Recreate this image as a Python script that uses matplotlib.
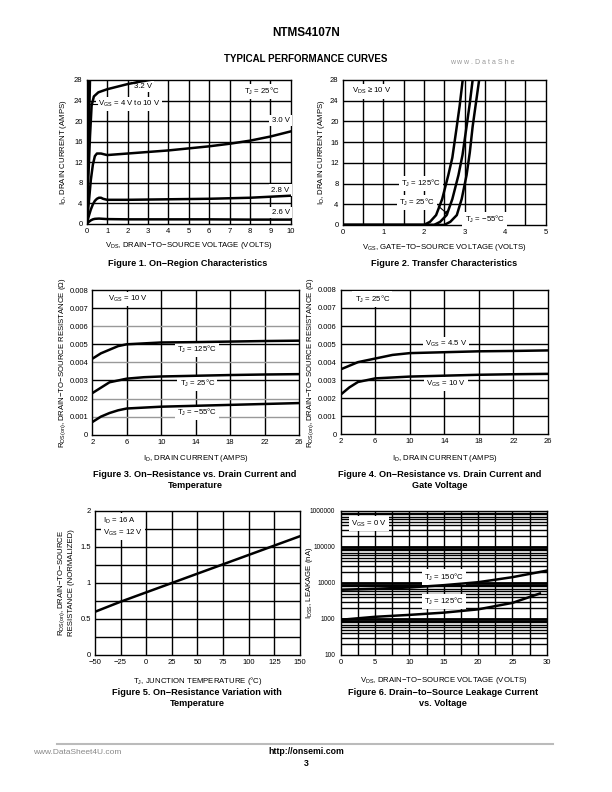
import numpy as np
import matplotlib
matplotlib.use("Agg")
import matplotlib.pyplot as plt

plt.rcParams["font.family"] = ["Liberation Sans", "DejaVu Sans"]
plt.rcParams["mathtext.default"] = "regular"

# ── Figure 1: on-region characteristics ──────────────────────────────────────
f1_hi_a_vds = [0, 0.06, 0.12]
f1_hi_a_id = [0, 14, 28]
f1_hi_b_vds = [0, 0.08, 0.16]
f1_hi_b_id = [0, 14, 28]
f1_32_vds = [0, 0.08, 0.16, 0.24, 0.35, 0.57, 1.0, 1.5, 2.0, 2.5, 3.1]
f1_32_id = [0, 9, 17, 23, 24.8, 25.6, 26.2, 26.7, 27.2, 27.6, 28]
f1_30_vds = [0, 0.1, 0.2, 0.3, 0.4, 0.5, 0.7, 1.0, 2, 3, 4, 5, 6, 7, 8, 9, 10]
f1_30_id = [0, 4, 8.5, 11.5, 13.2, 13.7, 13.7, 13.4, 13.7, 14, 14.3, 14.7, 15.1, 15.6, 16.2, 17, 18]
f1_28_vds = [0, 0.1, 0.2, 0.3, 0.4, 0.5, 0.6, 0.7, 0.8, 1.0, 2, 4, 6, 8, 10]
f1_28_id = [0, 1.5, 2.8, 3.8, 4.5, 4.9, 5.1, 5.1, 4.9, 4.7, 4.7, 4.8, 4.9, 5.1, 5.5]
f1_26_vds = [0, 0.1, 0.2, 0.3, 0.4, 0.6, 0.8, 1, 2, 4, 6, 8, 10]
f1_26_id = [0, 0.4, 0.7, 0.9, 1.0, 1.05, 1.0, 0.95, 0.9, 0.9, 0.9, 0.85, 0.85]

# ── Figure 2: transfer characteristics ───────────────────────────────────────
f2_125_vgs = [0, 2.0, 2.15, 2.3, 2.45, 2.6, 2.7, 2.8, 2.88, 2.955]
f2_125_id = [0, 0, 0.6, 1.9, 5, 9.6, 13, 18.5, 23, 28]
f2_25_vgs = [0, 2.25, 2.4, 2.56, 2.7, 2.85, 2.95, 3.05, 3.13, 3.2]
f2_25_id = [0, 0, 0.6, 1.9, 5, 9.6, 13.5, 19, 23.5, 28]
f2_m55_vgs = [0, 2.5, 2.65, 2.81, 2.93, 3.05, 3.13, 3.2, 3.28, 3.36]
f2_m55_id = [0, 0, 0.6, 1.9, 5, 9.6, 14, 19, 23.5, 28]

# ── Figure 3: Rds(on) vs Id and temperature ──────────────────────────────────
f3_id = [2, 3, 4, 5, 6, 8, 10, 14, 18, 22, 26]
f3_125 = [0.0042, 0.0045, 0.0047, 0.0049, 0.0050, 0.00505, 0.0051, 0.00512, 0.00515, 0.00518, 0.0052]
f3_25 = [0.0023, 0.0026, 0.0029, 0.0030, 0.0031, 0.00318, 0.00322, 0.00326, 0.0033, 0.00333, 0.00335]
f3_m55 = [0.0007, 0.0010, 0.0012, 0.00135, 0.00145, 0.0015, 0.00155, 0.0016, 0.00165, 0.0017, 0.00175]

# ── Figure 4: Rds(on) vs Id and gate voltage ─────────────────────────────────
f4_id = [2, 3, 4, 5, 6, 8, 10, 14, 18, 22, 26]
f4_45 = [0.0036, 0.0038, 0.0040, 0.0041, 0.0042, 0.0044, 0.0045, 0.00455, 0.0046, 0.00462, 0.00465]
f4_10 = [0.0022, 0.0026, 0.0029, 0.0030, 0.0031, 0.00315, 0.0032, 0.00325, 0.0033, 0.00333, 0.00335]

# ── Figure 5: normalized Rds(on) vs Tj ───────────────────────────────────────
f5_tj = [-50, -25, 0, 25, 50, 75, 100, 125, 150]
f5_r = [0.6, 0.74, 0.87, 1.0, 1.13, 1.26, 1.39, 1.52, 1.65]

# ── Figure 6: leakage vs Vds ─────────────────────────────────────────────────
f6_vds = [0, 5, 10, 15, 20, 25, 30]
f6_150 = [6500, 6900, 7500, 8700, 10500, 14500, 22000]
f6_125_vds = [0, 5, 10, 15, 20, 25, 29]
f6_125 = [950, 1150, 1300, 1500, 1850, 2800, 5100]

fig = plt.figure(figsize=(6.12, 7.92), dpi=100, facecolor="white")

TICK = 5.5
LAB = 5.6
LW = 1.8


def style(ax, xticks, yticks, xgrid, ygrid, xlim, ylim, gridcol="black"):
    ax.set_xlim(*xlim)
    ax.set_ylim(*ylim)
    ax.set_xticks(xticks)
    ax.set_yticks(yticks)
    for v in xgrid:
        ax.axvline(v, color="black", lw=1.0, zorder=1)
    for v in ygrid:
        ax.axhline(v, color=gridcol, lw=1.0, zorder=1)
    ax.tick_params(labelsize=TICK, length=0, pad=3)
    for s in ax.spines.values():
        s.set_linewidth(1.0)


def label(ax, x, y, s, ha="center", fs=5.6):
    ax.text(x, y, s, ha=ha, va="center", fontsize=fs, zorder=3,
            bbox=dict(facecolor="white", edgecolor="none", pad=1.5))


def axlabels(ax, xl, yl, xc, yc):
    ax.set_xlabel(xl, fontsize=LAB)
    ax.set_ylabel(yl, fontsize=LAB, linespacing=1.2)
    ax.xaxis.set_label_coords(0.5, xc)
    ax.yaxis.set_label_coords(yc, 0.5)


# Figure 1
ax1 = fig.add_axes([0.1417, 0.7172, 0.3333, 0.1818])
style(ax1, range(0, 11), range(0, 29, 4), np.arange(1, 10), np.arange(4, 28, 4), (0, 10), (0, 28))
for xs, ys in [(f1_hi_a_vds, f1_hi_a_id), (f1_hi_b_vds, f1_hi_b_id), (f1_32_vds, f1_32_id),
               (f1_30_vds, f1_30_id), (f1_28_vds, f1_28_id), (f1_26_vds, f1_26_id)]:
    ax1.plot(xs, ys, color="black", lw=LW, zorder=4, clip_on=True)
label(ax1, 2.75, 26.8, "3.2 V")
label(ax1, 0.55, 23.3, "V$_{GS}$ = 4 V to 10 V", ha="left")
ax1.plot([0.15, 0.5], [23.3, 23.3], color="black", lw=0.8, zorder=4)
label(ax1, 8.6, 25.8, "T$_J$ = 25°C")
label(ax1, 9.5, 20.2, "3.0 V")
label(ax1, 9.5, 6.6, "2.8 V")
label(ax1, 9.5, 2.2, "2.6 V")
axlabels(ax1, "V$_{DS}$, DRAIN−TO−SOURCE VOLTAGE (VOLTS)", "I$_D$, DRAIN CURRENT (AMPS)",
         -0.111, -0.087)

# Figure 2
ax2 = fig.add_axes([0.560, 0.716, 0.3317, 0.183])
style(ax2, range(0, 6), range(0, 29, 4), np.arange(0.5, 5, 0.5), np.arange(4, 28, 4), (0, 5), (0, 28))
for xs, ys in [(f2_125_vgs, f2_125_id), (f2_25_vgs, f2_25_id), (f2_m55_vgs, f2_m55_id)]:
    ax2.plot(xs, ys, color="black", lw=LW, zorder=4)
label(ax2, 0.22, 25.8, "V$_{DS}$ ≥ 10 V", ha="left")
label(ax2, 2.42, 8.0, "T$_J$ = 125°C", ha="right")
label(ax2, 2.27, 4.3, "T$_J$ = 25°C", ha="right")
ax2.annotate("", xy=(2.66, 1.6), xytext=(2.3, 4.0),
             arrowprops=dict(arrowstyle="-|>", color="black", lw=0.8, mutation_scale=5), zorder=5)
label(ax2, 3.0, 1.0, "T$_J$ = −55°C", ha="left")
axlabels(ax2, "V$_{GS}$, GATE−TO−SOURCE VOLTAGE (VOLTS)", "I$_D$, DRAIN CURRENT (AMPS)",
         -0.117, -0.077)

# Figure 3
r_ticks = [0, 0.001, 0.002, 0.003, 0.004, 0.005, 0.006, 0.007, 0.008]
r_labels = ["0", "0.001", "0.002", "0.003", "0.004", "0.005", "0.006", "0.007", "0.008"]
ax3 = fig.add_axes([0.1508, 0.4511, 0.3377, 0.1827])
style(ax3, range(2, 27, 4), r_ticks, [6, 10, 14, 18, 22], [], (2, 26), (0, 0.008))
ax3.set_yticklabels(r_labels)
for v, c in zip(r_ticks[1:-1], ["#999999", "#999999", "black", "#999999", "black", "#999999", "black"]):
    ax3.axhline(v, color=c, lw=1.0, zorder=1)
for ys in [f3_125, f3_25, f3_m55]:
    ax3.plot(f3_id, ys, color="black", lw=LW, zorder=4)
label(ax3, 3.8, 0.0075, "V$_{GS}$ = 10 V", ha="left")
label(ax3, 14.2, 0.0047, "T$_J$ = 125°C")
label(ax3, 14.2, 0.00285, "T$_J$ = 25°C")
label(ax3, 14.2, 0.00122, "T$_J$ = −55°C")
axlabels(ax3, "I$_D$, DRAIN CURRENT (AMPS)", "R$_{DS(on)}$, DRAIN−TO−SOURCE RESISTANCE (Ω)",
         -0.126, -0.117)

# Figure 4
ax4 = fig.add_axes([0.5567, 0.4516, 0.3387, 0.1823])
style(ax4, range(2, 27, 4), r_ticks, [6, 10, 14, 18, 22], r_ticks[1:-1], (2, 26), (0, 0.008))
ax4.set_yticklabels(r_labels)
for ys in [f4_45, f4_10]:
    ax4.plot(f4_id, ys, color="black", lw=LW, zorder=4)
label(ax4, 3.6, 0.0075, "T$_J$ = 25°C", ha="left")
label(ax4, 14.2, 0.0050, "V$_{GS}$ = 4.5 V")
label(ax4, 14.2, 0.0028, "V$_{GS}$ = 10 V")
axlabels(ax4, "I$_D$, DRAIN CURRENT (AMPS)", "R$_{DS(on)}$, DRAIN−TO−SOURCE RESISTANCE (Ω)",
         -0.126, -0.119)

# Figure 5
ax5 = fig.add_axes([0.1552, 0.173, 0.335, 0.1818])
style(ax5, range(-50, 151, 25), [0, 0.5, 1, 1.5, 2], range(-25, 150, 25),
      np.arange(0.25, 2, 0.25), (-50, 150), (0, 2))
ax5.set_yticklabels(["0", "0.5", "1", "1.5", "2"])
ax5.set_xticklabels(["−50", "−25", "0", "25", "50", "75", "100", "125", "150"])
ax5.plot(f5_tj, f5_r, color="black", lw=LW, zorder=4)
ax5.text(-42, 1.78, "I$_D$ = 16 A\nV$_{GS}$ = 12 V", ha="left", va="center", fontsize=5.6,
         linespacing=1.3, zorder=3, bbox=dict(facecolor="white", edgecolor="none", pad=1.5))
axlabels(ax5, "T$_J$, JUNCTION TEMPERATURE (°C)",
         "R$_{DS(on)}$, DRAIN−TO−SOURCE\nRESISTANCE (NORMALIZED)", -0.139, -0.098)

# Figure 6
ax6 = fig.add_axes([0.5567, 0.173, 0.3366, 0.1818])
ax6.set_yscale("log")
minor = [m * 10 ** d for d in range(2, 6) for m in range(2, 10)]
style(ax6, range(0, 31, 5), [100, 1000, 10000, 100000, 1000000], np.arange(2.5, 30, 2.5),
      [1000, 10000, 100000] + minor, (0, 30), (100, 1000000))
ax6.yaxis.set_minor_locator(matplotlib.ticker.NullLocator())
ax6.set_yticklabels(["100", "1000", "10000", "100000", "1000000"])
ax6.tick_params(axis="y", labelsize=4.7, pad=4)
for v in [1000, 10000, 100000]:
    ax6.axhline(v, color="black", lw=2.0, zorder=1)
ax6.plot(f6_vds, f6_150, color="black", lw=LW, zorder=4)
ax6.plot(f6_125_vds, f6_125, color="black", lw=LW, zorder=4)
label(ax6, 1.5, 450000, "V$_{GS}$ = 0 V", ha="left")
label(ax6, 15, 14500, "T$_J$ = 150°C")
label(ax6, 15, 3100, "T$_J$ = 125°C")
axlabels(ax6, "V$_{DS}$, DRAIN−TO−SOURCE VOLTAGE (VOLTS)", "I$_{DSS}$, LEAKAGE (nA)",
         -0.139, -0.125)

# Captions
cap = dict(ha="center", va="center", fontsize=6.6, fontweight="bold")
fig.text(188 / 612, 1 - 263 / 792, "Figure 1. On−Region Characteristics", **cap)
fig.text(444 / 612, 1 - 263 / 792, "Figure 2. Transfer Characteristics", **cap)
fig.text(195 / 612, 1 - 480 / 792, "Figure 3. On−Resistance vs. Drain Current and\nTemperature",
         linespacing=1.25, **cap)
fig.text(440 / 612, 1 - 480 / 792, "Figure 4. On−Resistance vs. Drain Current and\nGate Voltage",
         linespacing=1.25, **cap)
fig.text(197 / 612, 1 - 698 / 792, "Figure 5. On−Resistance Variation with\nTemperature",
         linespacing=1.25, **cap)
fig.text(443 / 612, 1 - 698 / 792, "Figure 6. Drain−to−Source Leakage Current\nvs. Voltage",
         linespacing=1.25, **cap)

# Header / footer
fig.text(0.5, 1 - 33 / 792, "NTMS4107N", ha="center", va="center", fontsize=8.5, fontweight="bold")
fig.text(0.5, 1 - 59 / 792, "TYPICAL PERFORMANCE CURVES", ha="center", va="center",
         fontsize=7, fontweight="bold")
fig.text(450 / 612, 1 - 62 / 792, "w w w . D a t a S h e", ha="left", va="center",
         fontsize=5, color="#999999")
fig.add_artist(plt.Line2D([57 / 612, 553 / 612], [1 - 744 / 792, 1 - 744 / 792],
                          color="#bbbbbb", lw=1.5))
fig.text(33 / 612, 1 - 753 / 792, "www.DataSheet4U.com", ha="left", va="center",
         fontsize=6, color="#888888")
fig.text(0.5, 1 - 752 / 792, "http://onsemi.com", ha="center", va="center",
         fontsize=6.3, fontweight="bold")
fig.text(0.5, 1 - 763 / 792, "3", ha="center", va="center", fontsize=6.3, fontweight="bold")

fig.savefig("out.png", dpi=100, facecolor="white")
